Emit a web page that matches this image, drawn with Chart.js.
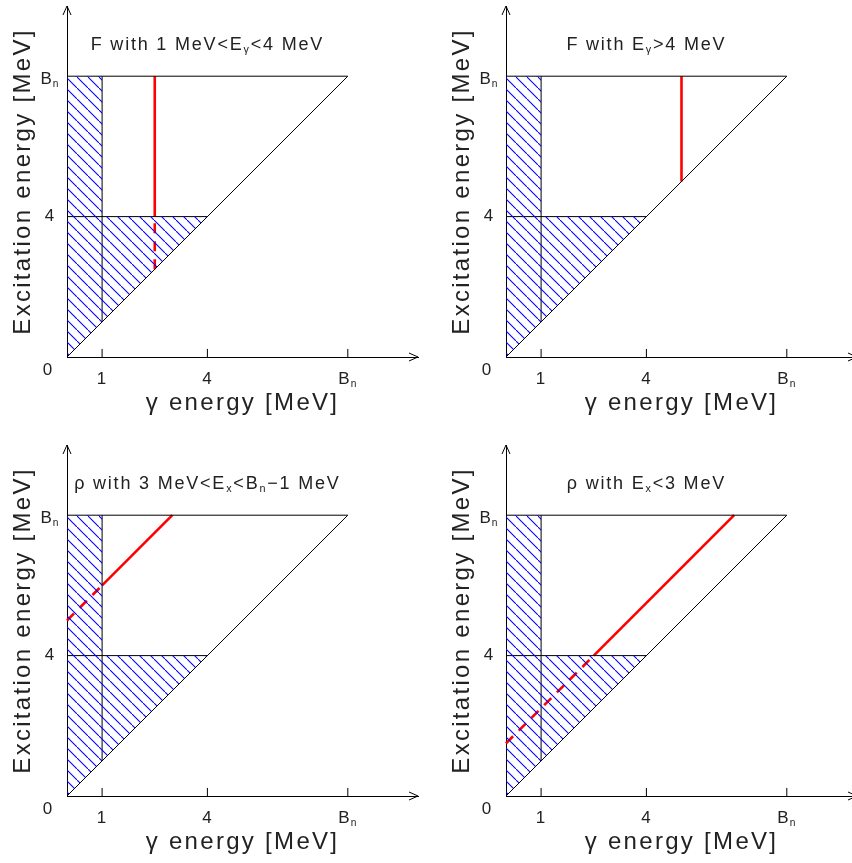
<!DOCTYPE html>
<html lang="en">
<head>
<meta charset="UTF-8">
<title>Excitation energy vs gamma energy</title>
<script src="https://cdn.jsdelivr.net/npm/chart.js"></script>
<style>
    html, body {
        margin: 0;
        padding: 0;
        background: #fff;
        width: 852px;
        height: 863px;
        overflow: hidden;
    }
    .panel {
        position: absolute;
        width: 440px;
        height: 440px;
    }
</style>
</head>
<body>
<canvas class="panel" id="p0" width="440" height="440" style="left:0;top:0"></canvas>
<canvas class="panel" id="p1" width="440" height="440" style="left:439px;top:0"></canvas>
<canvas class="panel" id="p2" width="440" height="440" style="left:0;top:439px"></canvas>
<canvas class="panel" id="p3" width="440" height="440" style="left:439px;top:439px"></canvas>

<script>
    // axes run 0..10 in both directions, Bn sits at 8
    const axisMax = 10;
    const tickValues = [1, 4, 8];
    const tickLabels = [[{ t: '1' }], [{ t: '4' }], [{ t: 'B' }, { t: 'n', sub: true }]];
    const yTickValues = [4, 8];
    const yTickLabels = [[{ t: '4' }], [{ t: 'B' }, { t: 'n', sub: true }]];

    // triangle outline and cut lines
    const topEdgeX = [0, 8], topEdgeY = [8, 8];
    const diagX = [0, 8], diagY = [0, 8];
    const midX = [0, 4], midY = [4, 4];
    const cutX = [1, 1], cutY = [1, 8];
    // hatched region (E_gamma < 1 or E_x < 4)
    const hatchX = [0, 0, 1, 1, 4, 0];
    const hatchY = [0, 8, 8, 4, 4, 0];

    // red lines, one entry per panel
    const solidX = [[2.5, 2.5], [5, 5], [1, 3], [2.5, 6.5]];
    const solidY = [[4, 8], [5, 8], [6, 8], [4, 8]];
    const dashX = [[2.5, 2.5], [], [0, 1], [0, 2.5]];
    const dashY = [[2.5, 4], [], [5, 6], [1.5, 4]];

    const panelTitles = [
        [{ t: 'F with 1 MeV<E' }, { t: 'γ', sub: true }, { t: '<4 MeV' }],
        [{ t: 'F with E' }, { t: 'γ', sub: true }, { t: '>4 MeV' }],
        [{ t: 'ρ with 3 MeV<E' }, { t: 'x', sub: true }, { t: '<B' }, { t: 'n', sub: true }, { t: '−1 MeV' }],
        [{ t: 'ρ with E' }, { t: 'x', sub: true }, { t: '<3 MeV' }]
    ];
    const xTitle = [{ t: 'γ energy [MeV]' }];
    const yTitle = [{ t: 'Excitation energy [MeV]' }];

    const FONT = '"Liberation Sans", Arial, sans-serif';

    function pts(xs, ys) {
        return xs.map((x, i) => ({ x: x, y: ys[i] }));
    }

    function hatchPattern() {
        const c = document.createElement('canvas');
        c.width = 11;
        c.height = 11;
        const g = c.getContext('2d');
        g.strokeStyle = '#0000ff';
        g.lineWidth = 1.1;
        g.beginPath();
        g.moveTo(-2, -2);
        g.lineTo(13, 13);
        g.stroke();
        return g.createPattern(c, 'repeat');
    }

    function drawRich(ctx, parts, x, y, size, spacing) {
        let total = 0;
        const widths = parts.map(p => {
            ctx.font = (p.sub ? size * 0.6 : size) + 'px ' + FONT;
            ctx.letterSpacing = spacing + 'px';
            const w = ctx.measureText(p.t).width;
            total += w;
            return w;
        });
        let cx = x - total / 2;
        parts.forEach((p, i) => {
            ctx.font = (p.sub ? size * 0.6 : size) + 'px ' + FONT;
            ctx.letterSpacing = spacing + 'px';
            ctx.fillText(p.t, cx, p.sub ? y + size * 0.32 : y);
            cx += widths[i];
        });
    }

    const labelPlugin = {
        id: 'labels',
        afterDraw(chart) {
            const ctx = chart.ctx;
            const xs = chart.scales.x, ys = chart.scales.y;
            const area = chart.chartArea;
            const idx = chart.options.plugins.labels.panel;
            ctx.save();
            ctx.fillStyle = '#222';
            ctx.textAlign = 'left';
            ctx.textBaseline = 'middle';

            // arrows at axis ends
            ctx.strokeStyle = '#000';
            ctx.lineWidth = 1;
            const xt = xs.getPixelForValue(axisMax), yt = ys.getPixelForValue(axisMax);
            ctx.beginPath();
            ctx.moveTo(xt - 9, area.bottom - 4);
            ctx.lineTo(xt, area.bottom);
            ctx.lineTo(xt - 9, area.bottom + 4);
            ctx.moveTo(area.left - 4, yt + 9);
            ctx.lineTo(area.left, yt);
            ctx.lineTo(area.left + 4, yt + 9);
            ctx.stroke();

            // title
            drawRich(ctx, panelTitles[idx], xs.getPixelForValue(4), ys.getPixelForValue(8.9), 18, 1.8);

            // tick labels
            tickValues.forEach((v, i) => {
                drawRich(ctx, tickLabels[i], xs.getPixelForValue(v), area.bottom + 22, 17, 1);
            });
            yTickValues.forEach((v, i) => {
                drawRich(ctx, yTickLabels[i], area.left - 17, ys.getPixelForValue(v) + (v === 8 ? 3 : 0), 17, 1);
            });
            drawRich(ctx, [{ t: '0' }], area.left - 19, area.bottom + 13, 17, 1);

            // axis titles
            drawRich(ctx, xTitle, xs.getPixelForValue(5), area.bottom + 46, 24, 2.3);
            ctx.translate(area.left - 44, ys.getPixelForValue(5));
            ctx.rotate(-Math.PI / 2);
            drawRich(ctx, yTitle, 0, 0, 24, 2.3);
            ctx.restore();
        }
    };

    function lineSet(xs, ys, color, width, dash) {
        return {
            data: pts(xs, ys),
            showLine: true,
            borderColor: color,
            borderWidth: width,
            borderDash: dash || [],
            pointRadius: 0,
            fill: false,
            clip: false
        };
    }

    function makePanel(idx) {
        const datasets = [];
        datasets.push({
            data: pts(hatchX, hatchY),
            showLine: true,
            borderWidth: 0,
            borderColor: 'rgba(0,0,0,0)',
            backgroundColor: hatchPattern(),
            fill: 'shape',
            pointRadius: 0,
            clip: false
        });
        datasets.push(lineSet(topEdgeX, topEdgeY, '#000', 1));
        datasets.push(lineSet(diagX, diagY, '#000', 1));
        datasets.push(lineSet(midX, midY, '#000', 1));
        datasets.push(lineSet(cutX, cutY, '#000', 1));
        tickValues.forEach(v => datasets.push(lineSet([v, v], [0, 0.23], '#000', 1)));
        datasets.push(lineSet(solidX[idx], solidY[idx], '#ff0000', 2.6));
        if (dashX[idx].length) {
            datasets.push(lineSet(dashX[idx], dashY[idx], '#ff0000', 2.6, [10, 8]));
        }

        new Chart(document.getElementById('p' + idx), {
            type: 'scatter',
            data: { datasets: datasets },
            options: {
                responsive: false,
                animation: false,
                layout: { padding: { left: 67, top: 6, right: 22, bottom: 83 } },
                scales: {
                    x: {
                        type: 'linear',
                        min: 0,
                        max: axisMax,
                        grid: { display: false, drawTicks: false },
                        border: { display: true, color: '#000', width: 1 },
                        ticks: { display: false },
                        afterFit(s) { s.height = 0; }
                    },
                    y: {
                        type: 'linear',
                        min: 0,
                        max: axisMax,
                        grid: { display: false, drawTicks: false },
                        border: { display: true, color: '#000', width: 1 },
                        ticks: { display: false },
                        afterFit(s) { s.width = 0; }
                    }
                },
                plugins: {
                    legend: { display: false },
                    tooltip: { enabled: false },
                    labels: { panel: idx }
                }
            },
            plugins: [labelPlugin]
        });
    }

    [0, 1, 2, 3].forEach(makePanel);
</script>
</body>
</html>
